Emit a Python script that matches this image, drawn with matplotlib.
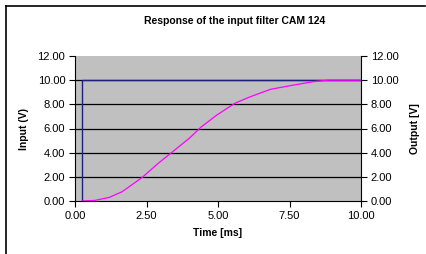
import matplotlib

matplotlib.use("Agg")
import matplotlib.pyplot as plt
from matplotlib.lines import Line2D

# input step and filter output
t_in = [0.25, 0.25, 10.0]
v_in = [0.0, 10.0, 10.0]
t_out = [0.25, 0.7, 1.2, 1.65, 2.35, 2.9, 3.4, 4.0, 4.4, 4.95, 5.6, 6.1,
         6.5, 6.85, 7.65, 8.35, 8.85, 9.5, 10.0]
v_out = [0.0, 0.05, 0.3, 0.77, 1.95, 3.1, 4.05, 5.2, 6.1, 7.1, 8.1, 8.6,
         8.95, 9.25, 9.6, 9.88, 10.0, 10.0, 10.0]
xticks = [0.0, 2.5, 5.0, 7.5, 10.0]
yticks = [0, 2, 4, 6, 8, 10, 12]

plt.rcParams["font.family"] = ["Liberation Sans", "DejaVu Sans"]

W, H = 426, 254
fig = plt.figure(figsize=(W / 100, H / 100), dpi=100)
fig.patch.set_facecolor("white")

# chart frame (only left and top edges are visible)
fig.add_artist(Line2D([6 / W, 6 / W], [0, 1 - 6 / H], color="black", lw=1.2,
                      transform=fig.transFigure))
fig.add_artist(Line2D([6 / W, 425 / W], [1 - 6 / H, 1 - 6 / H], color="black",
                      lw=1.2, transform=fig.transFigure))

x0, x1, yt, yb = 75, 361, 56, 201
ax = fig.add_axes([x0 / W, 1 - yb / H, (x1 - x0) / W, (yb - yt) / H])
ax.set_facecolor("#C0C0C0")

for y in yticks[1:-1]:
    ax.axhline(y, color="black", lw=0.9, zorder=1)

ax.plot(t_in, v_in, color="#1F1F7F", lw=1.0, zorder=3)
ax.plot(t_out, v_out, color="#FF00FF", lw=0.9, zorder=4)

ax.set_xlim(0, 10)
ax.set_ylim(0, 12)
ax.set_xticks(xticks)
ax.set_xticklabels([f"{v:.2f}" for v in xticks])
ax.set_yticks(yticks)
ax.set_yticklabels([f"{v:.2f}" for v in yticks])
for s in ["top", "right"]:
    ax.spines[s].set_visible(False)
ax.spines["left"].set_color("black")
ax.spines["bottom"].set_color("black")
ax.tick_params(labelsize=8, length=4, width=0.8, direction="out", pad=3)

ax2 = ax.twinx()
ax2.set_ylim(0, 12)
ax2.set_yticks(yticks)
ax2.set_yticklabels([f"{v:.2f}" for v in yticks])
ax2.tick_params(labelsize=8, length=4, width=0.8, direction="out", pad=3)
for s in ["top", "left", "bottom"]:
    ax2.spines[s].set_visible(False)
ax2.spines["right"].set_color("black")

ax.set_ylabel("Input (V)", fontsize=7.5, fontweight="bold", labelpad=6)
ax2.set_ylabel("Output [V]", fontsize=7.5, fontweight="bold", labelpad=8)
ax.set_xlabel("Time [ms]", fontsize=7.5, fontweight="bold", labelpad=5)

fig.text(235 / W, 1 - 21 / H, "Response of the input filter CAM 124",
         ha="center", va="center", fontsize=7.5, fontweight="bold")

fig.savefig("out.png", dpi=100, facecolor=fig.get_facecolor())
